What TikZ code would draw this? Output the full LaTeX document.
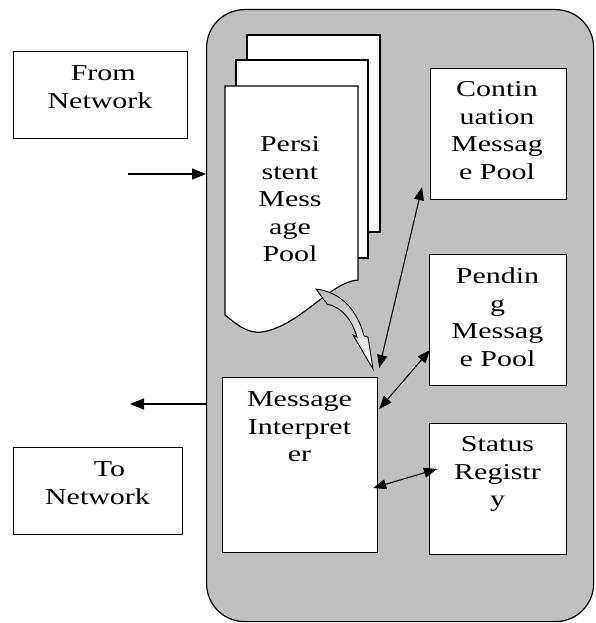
\documentclass[tikz,border=0pt]{standalone}
\usepackage{fontspec}
\setmainfont{Liberation Serif}
\usetikzlibrary{arrows.meta,calc}
\definecolor{bg}{RGB}{192,192,192}
\begin{document}
\begin{tikzpicture}[x=1pt,y=-1pt,
  box/.style={draw=black,line width=1.2pt,fill=white,inner sep=0pt,anchor=north west},
  lbl/.style={align=center,inner sep=0pt,anchor=north,font=\fontsize{22.7}{27.5}\selectfont,text=black,xscale=1.32,transform shape},
  arr/.style={line width=1.1pt,-{Triangle[length=14pt,width=11pt]}},
  darr/.style={line width=1.1pt,{Triangle[length=13pt,width=10pt]}-{Triangle[length=13pt,width=10pt]}},
  doc/.style={draw=black,line width=1.2pt,fill=white}]
\useasboundingbox (0,0) rectangle (595,623);

% outer system
\node[draw=black,line width=1.2pt,fill=bg,rounded corners=38pt,inner sep=0pt,
  anchor=north west,minimum width=387pt,minimum height=612pt] (sys) at (206,9) {};

% network boxes
\node[box,minimum width=174pt,minimum height=87pt] (from) at (13,51) {};
\node[lbl] (fromt) at (100,65.7) {\hspace*{5pt}From\\Network};
\node[box,minimum width=169pt,minimum height=87pt] (to) at (13,447) {};
\node[lbl] (tot) at (97.5,461.7) {\hspace*{18pt}To\\Network};

% persistent message pool (stacked documents)
\draw[doc] (247,35) rectangle (380,232);
\draw[doc] (236,60) rectangle (368,258);
\draw[doc] (225,86) -- (358,86) -- (358,280)
  .. controls (330,282) and (300,326) .. (262,332)
  .. controls (246,334) and (234,322) .. (225,315) -- cycle;
\node[lbl] (pmp) at (290,136.5) {Persi\\stent\\Mess\\age\\Pool};

% right boxes
\node[box,minimum width=136pt,minimum height=131pt] (cont) at (430,68) {};
\node[lbl] (contt) at (497,81.7) {Contin\\uation\\Messag\\e Pool};
\node[box,minimum width=137pt,minimum height=131pt] (pend) at (429,254) {};
\node[lbl] (pendt) at (497.5,267.7) {Pendin\\g\\Messag\\e Pool};
\node[box,minimum width=137pt,minimum height=131pt] (stat) at (429,423) {};
\node[lbl] (statt) at (497.5,436.7) {Status\\Registr\\y};

% message interpreter
\node[box,minimum width=155pt,minimum height=175pt] (mi) at (222,377) {};
\node[lbl] (mit) at (299.5,391.7) {Message\\Interpret\\er};

% curved block arrow from pool to interpreter
\shade[top color=gray!55,bottom color=white,draw=black,line width=0.9pt]
  (316,289) .. controls (342,292) and (358,312) .. (364,336)
  -- (368,337) -- (373,369) -- (353,335) -- (357,337)
  .. controls (352,320) and (342,307) .. (327,304) -- cycle;

% network arrows
\coordinate (inA) at (128,174);
\draw[arr] (inA) -- (inA -| sys.west);
\coordinate (outB) at (130,404);
\draw[arr] (outB -| sys.west) -- (outB);

% interpreter links
\coordinate (c1) at ($(mi.north east)+(1,-9)$);
\coordinate (c2) at ($(cont.south west)+(-8,-13)$);
\draw[darr] (c1) -- (c2);
\coordinate (p1) at ($(mi.north east)+(1,32)$);
\coordinate (p2) at ($(pend.north west)+(1,96)$);
\draw[darr] (p1) -- (p2);
\coordinate (s1) at ($(mi.north east)+(-5,111)$);
\coordinate (s2) at ($(stat.north west)+(8,46)$);
\draw[darr] (s1) -- (s2);
\end{tikzpicture}
\end{document}
